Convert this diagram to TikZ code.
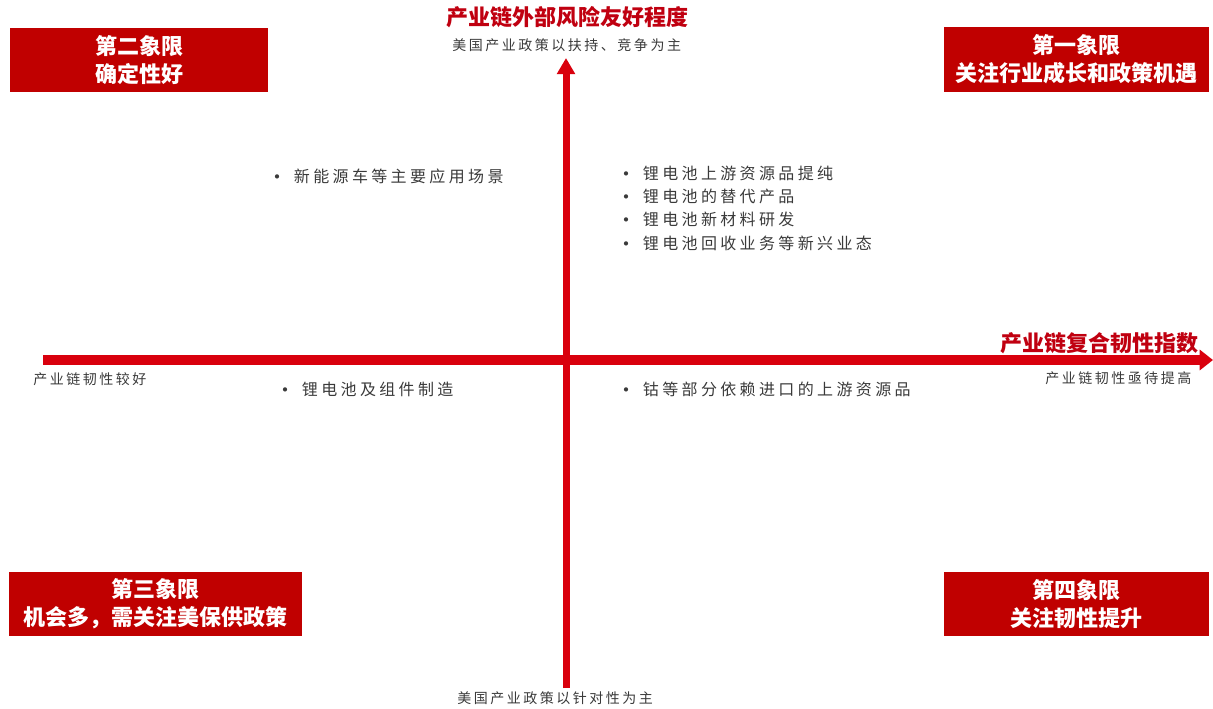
\documentclass[tikz,border=0pt]{standalone}
\usepackage{fontspec}
\setmainfont{Noto Sans CJK SC}
\newfontfamily\spaced[LetterSpace=21]{Noto Sans CJK SC}
\newfontfamily\spacedsmall[LetterSpace=18]{Noto Sans CJK SC}
\usetikzlibrary{arrows.meta}
\definecolor{axisred}{HTML}{D9000D}
\definecolor{boxred}{HTML}{C00000}
\definecolor{titlered}{HTML}{C00010}
\definecolor{txtgray}{HTML}{3A3A3A}
\newcommand{\bul}{\raisebox{-1.6pt}{\fontsize{15}{15}\selectfont •}\hspace{5pt}}
\tikzset{
  quadbox/.style={fill=boxred, draw=none, text=white, font=\bfseries\fontsize{16.5}{21}\selectfont, align=center, inner sep=0pt},
  axistitle/.style={text=titlered, font=\bfseries\fontsize{16.5}{20}\selectfont, inner sep=0pt},
  axisnote/.style={text=txtgray, font=\spacedsmall\fontsize{10.5}{12}\selectfont, inner sep=0pt},
  item/.style={text=txtgray, font=\spaced\fontsize{12}{14}\selectfont, inner sep=0pt, anchor=west},
  vaxis/.style={draw=axisred, line width=5.25pt, -{Triangle[length=12pt,width=13pt]}},
  haxis/.style={draw=axisred, line width=7.5pt, -{Triangle[length=10pt,width=15pt]}}
}
\begin{document}
\begin{tikzpicture}[x=0.75pt,y=-0.75pt]
\useasboundingbox (0,0) rectangle (1213,708);
% axes
\coordinate (vb) at (566,688);
\coordinate (vt) at (566,58);
\coordinate (hl) at (43,360);
\coordinate (hr) at (1213,360);
\draw[haxis] (hl) -- (hr);
\draw[vaxis] (vb) -- (vt);
% axis titles and notes
\node[axistitle] (ttop) at (567,17) {产业链外部风险友好程度};
\node[axisnote, anchor=west] (ntop) at (452,45) {美国产业政策以扶持、竞争为主};
\node[axistitle, anchor=east] (tright) at (1199,343) {产业链复合韧性指数};
\node[axisnote, anchor=west] (nright) at (1045,378) {产业链韧性亟待提高};
\node[axisnote, anchor=west] (nleft) at (33,379) {产业链韧性较好};
\node[axisnote, anchor=west] (nbot) at (457,698) {美国产业政策以针对性为主};
% quadrant boxes
\node[quadbox, minimum width=258*0.75pt, minimum height=64*0.75pt] (q2) at (139,60) {第二象限\\确定性好};
\node[quadbox, minimum width=265*0.75pt, minimum height=65*0.75pt] (q1) at (1076.5,59.5) {第一象限\\关注行业成长和政策机遇};
\node[quadbox, minimum width=293*0.75pt, minimum height=64*0.75pt] (q3) at (155.5,604) {第三象限\\机会多，需关注美保供政策};
\node[quadbox, minimum width=265*0.75pt, minimum height=64*0.75pt] (q4) at (1076.5,604) {第四象限\\关注韧性提升};
% items
\node[item] (a1) at (267,177) {\bul 新能源车等主要应用场景};
\node[item] (b1) at (616,174) {\bul 锂电池上游资源品提纯};
\node[item] (b2) at (616,197) {\bul 锂电池的替代产品};
\node[item] (b3) at (616,220) {\bul 锂电池新材料研发};
\node[item] (b4) at (616,244) {\bul 锂电池回收业务等新兴业态};
\node[item] (c1) at (275,390) {\bul 锂电池及组件制造};
\node[item] (d1) at (616,390) {\bul 钴等部分依赖进口的上游资源品};
\end{tikzpicture}
\end{document}
